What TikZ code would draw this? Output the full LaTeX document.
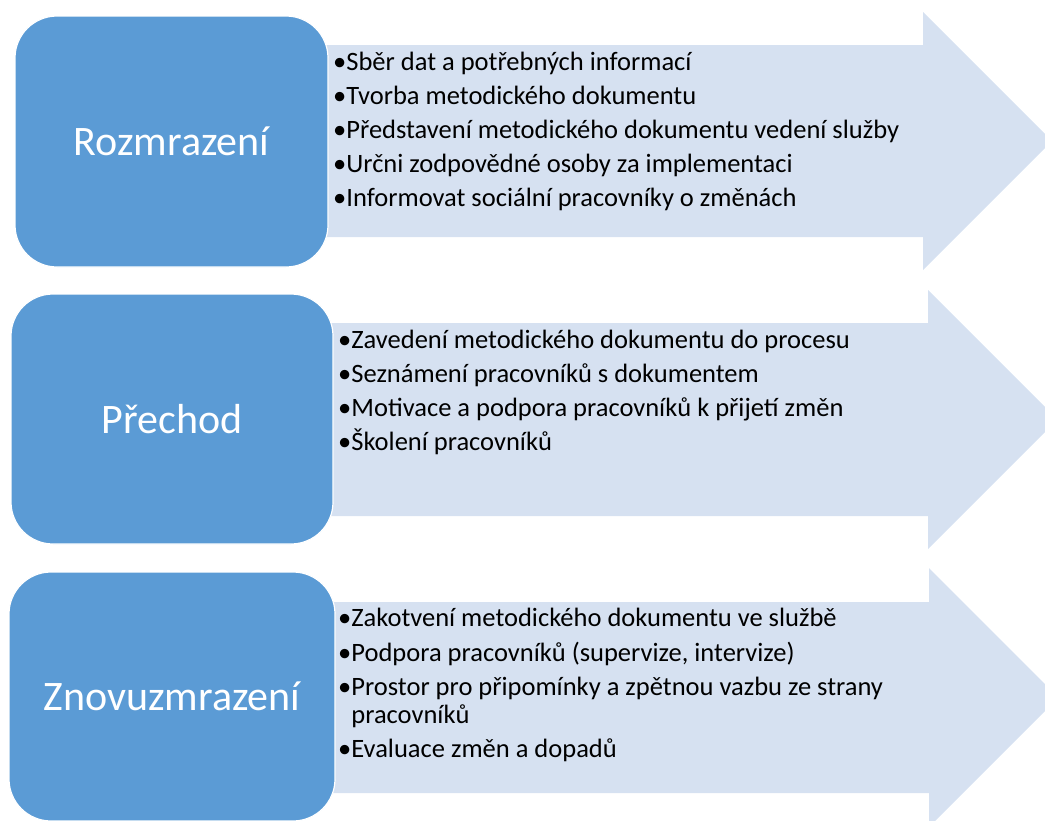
\documentclass[tikz,border=0pt]{standalone}
\usepackage{fontspec}
\setmainfont{Carlito}
\usepackage{tikz}
\usetikzlibrary{positioning}
\usepackage{xcolor}
\definecolor{phaseblue}{HTML}{5B9BD5}
\definecolor{arrowblue}{HTML}{D6E1F1}

\begin{document}
\begin{tikzpicture}[x=1pt, y=-1pt,
  phase/.style={rectangle, fill=phaseblue, draw=white, line width=1.2pt, rounded corners=42pt,
    text=white, font=\fontsize{42}{50}\selectfont},
  item/.style={anchor=base west, inner sep=0pt, font=\fontsize{26.5}{32}\selectfont}]
\useasboundingbox (0,0) rectangle (1045,820);
\clip (0,0) rectangle (1045,820);

% Arrows
\foreach \ya/\yb/\xh/\ha/\hb in {45/237/923/12/270, 323/516/928/290/549, 602/793/929/568/827} {
    \fill[arrowblue] (300,\ya) -- (\xh,\ya) -- (\xh,\ha) -- ({\xh+(\hb-\ha)/2},{(\ha+\hb)/2})
      -- (\xh,\hb) -- (\xh,\yb) -- (300,\yb) -- cycle;
}

% Phases
\node[phase, minimum width=313pt, minimum height=251pt] (rozmr) at (171.5,141.5) {Rozmrazení};
\node[phase, minimum width=322pt, minimum height=250pt] (prechod) at (172,419) {Přechod};
\node[phase, minimum width=326pt, minimum height=249pt] (znovu) at (172,696.5) {Znovuzmrazení};

% Items
\foreach \txt [count=\i] in {Sběr dat a potřebných informací, Tvorba metodického dokumentu,
    Představení metodického dokumentu vedení služby, Určni zodpovědné osoby za implementaci,
    Informovat sociální pracovníky o změnách} {
    \node[item] (r1-\i) at (333, {70+34.2*(\i-1)}) {•\txt};
}
\foreach \txt [count=\i] in {Zavedení metodického dokumentu do procesu, Seznámení pracovníků s dokumentem,
    Motivace a podpora pracovníků k přijetí změn, Školení pracovníků} {
    \node[item] (r2-\i) at (338, {348+34.3*(\i-1)}) {•\txt};
}
\foreach \y/\txt [count=\i] in {626/{•Zakotvení metodického dokumentu ve službě},
    661/{•Podpora pracovníků (supervize, intervize)},
    695/{•Prostor pro připomínky a zpětnou vazbu ze strany},
    723/{\phantom{•}pracovníků}, 757/{•Evaluace změn a dopadů}} {
    \node[item] (r3-\i) at (338,\y) {\txt};
}
\end{tikzpicture}
\end{document}
